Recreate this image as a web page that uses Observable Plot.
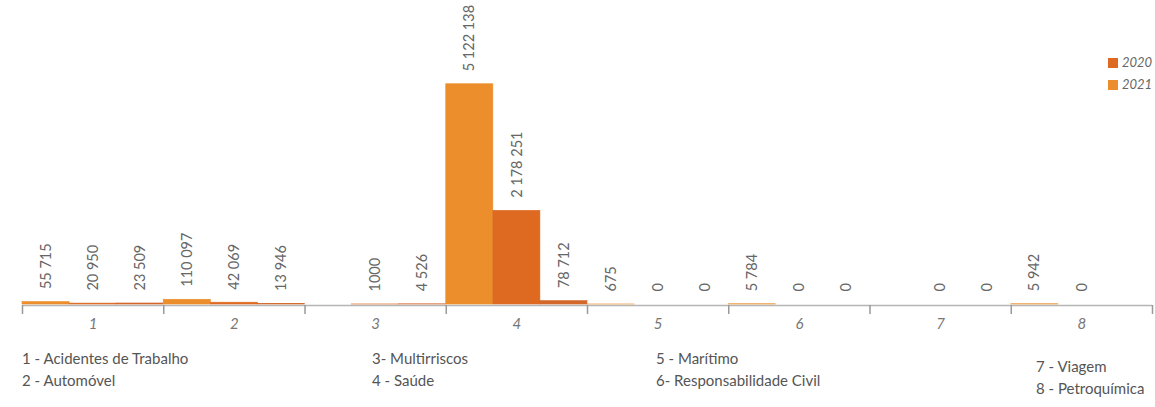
<!DOCTYPE html>
<html>
<head>
<meta charset="utf-8">
<script src="https://cdn.jsdelivr.net/npm/d3@7"></script>
<script src="https://cdn.jsdelivr.net/npm/@observablehq/plot@0.6"></script>
<style>
  html, body { margin: 0; padding: 0; background: #fff; }
  #wrap { position: relative; width: 1155px; height: 407px; font-family: Lato, "Open Sans", sans-serif; color: #555; }
  #chart { position: absolute; left: 0; top: 0; }
  .leg { position: absolute; font-size: 15px; line-height: 22px; color: #555; white-space: nowrap; }
  #key { position: absolute; left: 1108px; top: 51px; font-size: 13px; font-style: italic; color: #666; line-height: 22px; }
  #key span.sw { display: inline-block; width: 10px; height: 10px; margin-right: 4px; vertical-align: -1px; }
</style>
</head>
<body>
<div id="wrap">
  <div id="chart"></div>
  <div id="key"></div>
  <div class="leg" style="left:22px; top:347px;" id="leg1"></div>
  <div class="leg" style="left:372px; top:347px;" id="leg2"></div>
  <div class="leg" style="left:656px; top:347px;" id="leg3"></div>
  <div class="leg" style="left:1036px; top:355px;" id="leg4"></div>
</div>
<script>
// ---- data ----
const categories = ["1", "2", "3", "4", "5", "6", "7", "8"];
const categoryNames = [
  "1 - Acidentes de Trabalho", "2 - Automóvel",
  "3- Multirriscos", "4 - Saúde",
  "5 - Marítimo", "6- Responsabilidade Civil",
  "7 - Viagem", "8 - Petroquímica"
];
const seriesNames = ["2020", "2021"];
const seriesColors = ["#DE6A22", "#EC8E2B"];

// three bar slots per category, as drawn in the picture
const slotA = [55715, 110097, null, 5122138, 675, 5784, null, 5942];
const slotB = [20950, 42069, 1000, 2178251, 0, 0, 0, 0];
const slotC = [23509, 13946, 4526, 78712, 0, 0, 0, null];
const labelsA = ["55 715", "110 097", null, "5 122 138", "675", "5 784", null, "5 942"];
const labelsB = ["20 950", "42 069", "1000", "2 178 251", "0", "0", "0", "0"];
const labelsC = ["23 509", "13 946", "4 526", "78 712", "0", "0", "0", null];
const slotColors = ["#EC8E2B", "#DE6A22", "#D4682A"];

// ---- build table ----
const slots = [slotA, slotB, slotC];
const slotLabels = [labelsA, labelsB, labelsC];
const rows = [];
categories.forEach((c, gi) => {
  slots.forEach((arr, si) => {
    const v = arr[gi];
    if (v === null) return;
    rows.push({cat: c, idx: gi * 3 + si, slot: si, value: v, label: slotLabels[si][gi], color: slotColors[si]});
  });
});
const nSlots = categories.length * 3;
const boundaries = d3.range(0, nSlots + 1, 3);
const centers = categories.map((c, i) => i * 3 + 1.5);

const plot = Plot.plot({
  width: 1155,
  height: 340,
  marginLeft: 22,
  marginRight: 3,
  marginTop: 3,
  marginBottom: 36,
  style: {fontFamily: "Lato, 'Open Sans', sans-serif", background: "white"},
  x: {domain: [0, nSlots], axis: null},
  y: {domain: [0, 7000000], axis: null},
  marks: [
    Plot.ruleY([0], {stroke: "#b5b5b5", strokeWidth: 1.5, dy: 1}),
    Plot.rectY(rows, {
      x1: "idx", x2: d => d.idx + 1, y1: 0, y2: "value",
      fill: "color", stroke: d => d.value > 0 ? d.color : "none", strokeWidth: 0.6
    }),
    Plot.text(rows.filter(d => d.label !== null), {
      x: d => d.idx + 0.5, y: "value", text: "label",
      rotate: -90, textAnchor: "start", dy: -13,
      fill: "#666", fontSize: 14.5
    }),
    Plot.axisX({ticks: boundaries, tickFormat: () => "", tickSize: 9, stroke: "#999", strokeWidth: 1.5, anchor: "bottom", dy: 1, label: null}),
    Plot.axisX({ticks: centers, tickFormat: (d, i) => categories[i], tickSize: 0, tickPadding: 14,
      fontSize: 15, fontStyle: "italic", fill: "#777", anchor: "bottom", label: null})
  ]
});
document.getElementById("chart").appendChild(plot);

// legend (top right)
const key = document.getElementById("key");
seriesNames.forEach((n, i) => {
  const row = document.createElement("div");
  row.innerHTML = `<span class="sw" style="background:${seriesColors[i]}"></span>${n}`;
  key.appendChild(row);
});

// category names below
["leg1", "leg2", "leg3", "leg4"].forEach((id, k) => {
  document.getElementById(id).innerHTML = categoryNames.slice(k * 2, k * 2 + 2).join("<br>");
});
</script>
</body>
</html>
